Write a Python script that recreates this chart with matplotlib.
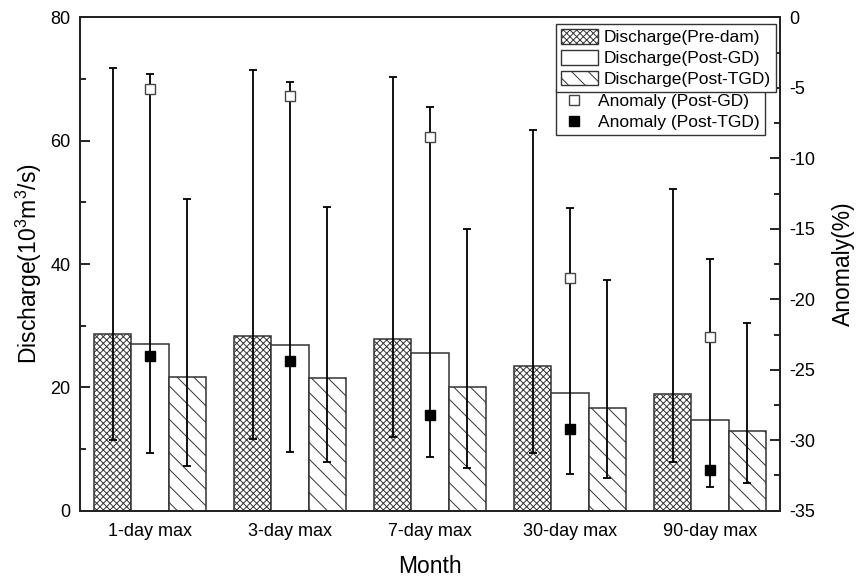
import numpy as np
import matplotlib
matplotlib.use("Agg")
import matplotlib.pyplot as plt
from matplotlib.patches import Patch
from matplotlib.lines import Line2D

plt.rcParams['font.family'] = ['Liberation Sans', 'DejaVu Sans']
plt.rcParams['hatch.linewidth'] = 0.7
plt.rcParams['hatch.color'] = '#333333'
plt.rcParams['mathtext.fontset'] = 'custom'
plt.rcParams['mathtext.rm'] = 'Liberation Sans'
plt.rcParams['axes.unicode_minus'] = False

categories = ['1-day max', '3-day max', '7-day max', '30-day max', '90-day max']

# mean discharge (10^3 m^3/s)
pre_dam = [28.6, 28.4, 27.9, 23.5, 19.0]
post_gd = [27.1, 26.8, 25.6, 19.1, 14.7]
post_tgd = [21.7, 21.5, 20.0, 16.6, 13.0]

# discharge range (min / max)
pre_dam_min = [11.4, 11.6, 11.9, 9.3, 7.9]
pre_dam_max = [71.8, 71.4, 70.3, 61.8, 52.1]
post_gd_min = [9.4, 9.6, 8.7, 5.9, 3.8]
post_gd_max = [70.9, 69.5, 65.5, 49.1, 40.9]
post_tgd_min = [7.3, 7.9, 6.9, 5.3, 4.5]
post_tgd_max = [50.6, 49.2, 45.7, 37.4, 30.5]

# anomaly (%)
anomaly_gd = [-5.1, -5.6, -8.5, -18.5, -22.7]
anomaly_tgd = [-24.0, -24.4, -28.2, -29.2, -32.1]

fig = plt.figure(figsize=(8.57, 5.79), dpi=100)
ax = fig.add_axes([80/857, 1-510.7/579, 700/857, 493.3/579])
ax2 = ax.twinx()

x = np.arange(1, len(categories) + 1)
w = 0.8 / 3
edge = '#333333'

series = [
    (pre_dam, pre_dam_min, pre_dam_max, 'xxxxx', 'Discharge(Pre-dam)'),
    (post_gd, post_gd_min, post_gd_max, '', 'Discharge(Post-GD)'),
    (post_tgd, post_tgd_min, post_tgd_max, '\\\\', 'Discharge(Post-TGD)'),
]
handles1 = []
for i, (vals, lo, hi, hatch, lab) in enumerate(series):
    xi = x + (i - 1) * w
    vals = np.array(vals)
    ax.bar(xi, vals, w, color='white', edgecolor=edge, linewidth=1.1,
           hatch=hatch, zorder=2)
    ax.errorbar(xi, vals, yerr=[vals - np.array(lo), np.array(hi) - vals],
                fmt='none', ecolor='black', elinewidth=1.3, capsize=3,
                capthick=1.3, zorder=3)
    handles1.append(Patch(facecolor='white', edgecolor=edge, hatch=hatch,
                          linewidth=1.0, label=lab))

ax2.plot(x, anomaly_gd, 's', markersize=7, markerfacecolor='white',
         markeredgecolor='#444444', markeredgewidth=1.0, linestyle='none',
         zorder=4)
ax2.plot(x, anomaly_tgd, 's', markersize=7, markerfacecolor='black',
         markeredgecolor='black', linestyle='none', zorder=4)

ax.set_xlim(0.5, 5.5)
ax.set_ylim(0, 80)
ax2.set_ylim(-35, 0)
ax.set_xticks(x)
ax.set_xticklabels(categories)
ax.set_yticks(np.arange(0, 81, 20))
ax.set_yticks(np.arange(0, 81, 10), minor=True)
ax2.set_yticks(np.arange(-35, 1, 5))
ax2.set_yticks(np.arange(-35, 1, 2.5), minor=True)

ax.tick_params(axis='x', length=0, labelsize=13, pad=9)
ax.tick_params(axis='y', which='major', direction='in', length=7, width=1.2,
               labelsize=13, pad=7)
ax.tick_params(axis='y', which='minor', direction='in', length=4, width=1.2)
ax2.tick_params(axis='y', which='major', direction='in', length=7, width=1.2,
                labelsize=13, pad=7)
ax2.tick_params(axis='y', which='minor', direction='in', length=4, width=1.2)

for a in (ax, ax2):
    for s in a.spines.values():
        s.set_linewidth(1.3)
        s.set_color('#222222')

ax.set_xlabel('Month', fontsize=16.5, labelpad=11)
ax.set_ylabel('Discharge(10$^3$m$^3$/s)', fontsize=16.5, labelpad=4)
ax2.set_ylabel('Anomaly(%)', fontsize=16.5, labelpad=12)

leg1 = ax2.legend(handles=handles1, loc='upper left',
                  bbox_to_anchor=(556/857, 1-24/579),
                  bbox_transform=fig.transFigure, borderaxespad=0,
                  fontsize=12.5, fancybox=False, edgecolor='#333333',
                  framealpha=1, handlelength=2.1, handleheight=0.9,
                  handletextpad=0.35, labelspacing=0.27, borderpad=0.3)
leg1.get_frame().set_linewidth(1.0)
ax2.add_artist(leg1)

handles2 = [
    Line2D([], [], marker='s', linestyle='none', markersize=7,
           markerfacecolor='white', markeredgecolor='#444444',
           label='Anomaly (Post-GD)'),
    Line2D([], [], marker='s', linestyle='none', markersize=7,
           markerfacecolor='black', markeredgecolor='black',
           label='Anomaly (Post-TGD)'),
]
leg2 = ax2.legend(handles=handles2, loc='upper left',
                  bbox_to_anchor=(556/857, 1-89/579),
                  bbox_transform=fig.transFigure, borderaxespad=0,
                  fontsize=12.5, fancybox=False, edgecolor='#333333',
                  framealpha=1, handlelength=1.5, handletextpad=0.6,
                  labelspacing=0.3, borderpad=0.3)
leg2.get_frame().set_linewidth(1.0)
leg1.set_zorder(10)
leg2.set_zorder(9)

fig.savefig('out.png', dpi=100)
